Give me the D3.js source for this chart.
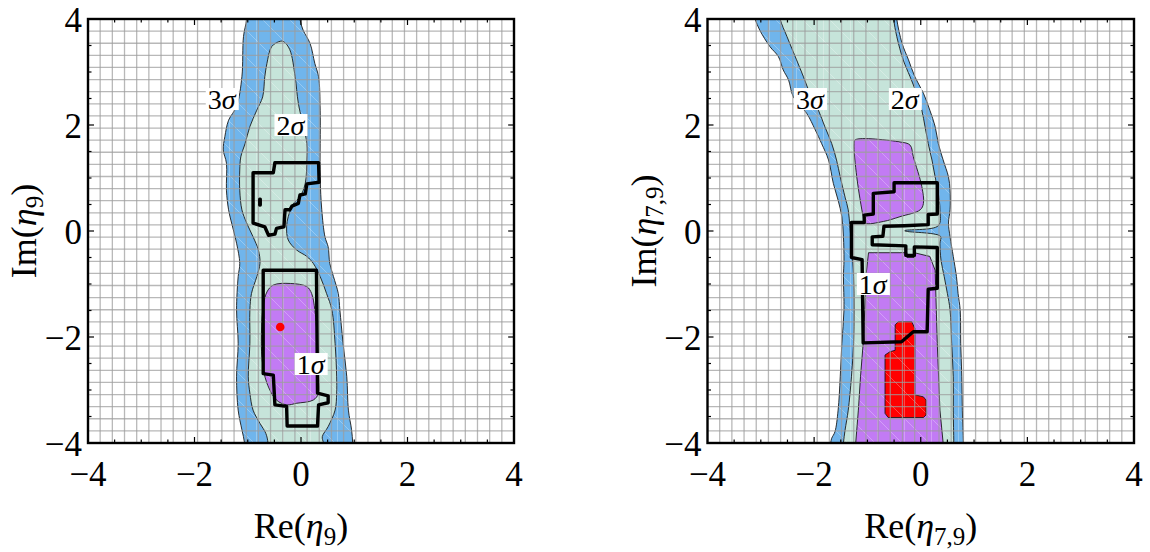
<!DOCTYPE html>
<html>
<head>
<meta charset="utf-8">
<script src="https://cdn.jsdelivr.net/npm/d3@7"></script>
<style>
  html, body { margin: 0; padding: 0; background: #fff; }
  svg { display: block; font-family: "Liberation Serif", "Times New Roman", serif; }
</style>
</head>
<body>
<svg id="chart" width="1150" height="552"></svg>
<script>
// ---------- axes ----------
const tickValues = [-4, -2, 0, 2, 4];
const gridDivisions = 35;

// ---------- left panel: eta_9 ----------
const eta9Sigma3 = [[-1.02,4.3],[-1.02,4.0],[-1.08,3.67],[-1.11,2.91],[-1.21,2.35],[-1.36,2.09],[-1.43,1.78],[-1.46,1.53],[-1.40,1.28],[-1.40,0.77],[-1.36,0.40],[-1.27,0.02],[-1.21,-0.23],[-1.15,-0.61],[-1.18,-0.86],[-1.21,-1.49],[-1.18,-2.12],[-1.21,-2.75],[-1.18,-3.38],[-1.11,-3.75],[-1.06,-4.0],[-1.06,-4.3],[0.97,-4.3],[0.97,-4.0],[0.95,-3.75],[0.89,-3.38],[0.86,-2.75],[0.79,-2.12],[0.73,-1.49],[0.70,-1.18],[0.61,-0.86],[0.54,-0.61],[0.51,-0.30],[0.45,-0.11],[0.39,0.40],[0.36,1.02],[0.36,2.28],[0.33,2.91],[0.26,3.16],[0.17,3.54],[0.04,3.79],[-0.02,4.0],[-0.02,4.3]];
const eta9Sigma2 = [[-0.39,3.58],[-0.55,3.48],[-0.64,3.16],[-0.68,2.91],[-0.72,2.53],[-0.83,2.28],[-0.96,1.97],[-1.05,1.65],[-1.13,1.40],[-1.15,1.15],[-1.15,0.77],[-1.11,0.40],[-1.02,0.15],[-0.90,-0.11],[-0.80,-0.36],[-0.77,-0.61],[-0.83,-0.86],[-0.93,-1.18],[-0.96,-1.49],[-0.96,-2.12],[-0.99,-2.75],[-0.96,-3.06],[-0.90,-3.38],[-0.77,-3.63],[-0.66,-3.82],[-0.62,-4.0],[-0.62,-4.3],[0.42,-4.3],[0.42,-4.0],[0.40,-3.88],[0.51,-3.69],[0.64,-3.38],[0.67,-3.06],[0.67,-2.75],[0.64,-2.12],[0.58,-1.49],[0.48,-1.18],[0.36,-0.86],[0.23,-0.61],[0.11,-0.48],[-0.08,-0.36],[-0.24,-0.17],[-0.27,0.08],[-0.24,0.27],[-0.14,0.52],[-0.02,0.64],[0.08,0.90],[0.11,1.34],[0.11,1.65],[-0.05,2.41],[-0.11,2.91],[-0.21,3.42],[-0.32,3.57]];
const eta9Sigma1 = [[-0.52,-1.02],[-0.20,-0.99],[0.11,-1.05],[0.20,-1.18],[0.26,-1.49],[0.31,-2.12],[0.33,-2.75],[0.33,-3.06],[0.23,-3.19],[-0.08,-3.25],[-0.27,-3.28],[-0.46,-3.19],[-0.64,-2.87],[-0.73,-2.43],[-0.74,-1.81],[-0.71,-1.43],[-0.64,-1.15]];
const eta9FitUpper = [[-0.90,1.10],[-0.52,1.10],[-0.49,1.29],[0.33,1.29],[0.34,0.92],[0.11,0.89],[0.08,0.70],[-0.02,0.68],[-0.05,0.52],[-0.17,0.47],[-0.21,0.40],[-0.30,0.40],[-0.32,0.08],[-0.46,0.05],[-0.49,-0.06],[-0.61,-0.08],[-0.68,0.08],[-0.90,0.15]];
const eta9FitLower = [[-0.71,-0.74],[0.29,-0.74],[0.31,-3.06],[0.51,-3.11],[0.51,-3.24],[0.33,-3.28],[0.31,-3.68],[-0.26,-3.68],[-0.27,-3.31],[-0.49,-3.28],[-0.52,-2.72],[-0.71,-2.69]];
const eta9FitSpeck = [[-0.775,0.60],[-0.765,0.60],[-0.765,0.49],[-0.775,0.49]];
const eta9Best = [-0.39, -1.81];
const eta9Labels = [
  { level: "3", x: -1.49, y: 2.49 },
  { level: "2", x: -0.20, y: 2.00 },
  { level: "1", x: 0.18, y: -2.51 }
];

// ---------- right panel: eta_{7,9} ----------
const eta79Sigma3 = [[-3.22,4.3],[-3.11,4.0],[-3.02,3.79],[-2.83,3.48],[-2.67,3.29],[-2.58,3.04],[-2.48,2.85],[-2.39,2.53],[-2.14,2.22],[-1.98,1.91],[-1.86,1.65],[-1.73,1.34],[-1.64,0.90],[-1.55,0.58],[-1.48,0.27],[-1.45,-0.11],[-1.44,-0.55],[-1.45,-0.86],[-1.44,-1.49],[-1.48,-2.12],[-1.51,-2.75],[-1.55,-3.38],[-1.61,-3.79],[-1.67,-3.91],[-1.69,-4.0],[-1.72,-4.3],[0.80,-4.3],[0.80,-4.0],[0.78,-3.38],[0.77,-2.75],[0.75,-2.12],[0.74,-1.49],[0.70,-1.18],[0.67,-0.86],[0.61,-0.48],[0.55,-0.11],[0.52,0.15],[0.55,0.40],[0.55,0.77],[0.52,1.02],[0.42,1.34],[0.33,1.65],[0.27,1.97],[0.17,2.28],[0.05,2.60],[-0.11,2.91],[-0.23,3.23],[-0.35,3.54],[-0.45,4.0],[-0.47,4.3]];
const eta79Sigma2 = [[-2.70,4.3],[-2.64,4.0],[-2.51,3.67],[-2.33,3.23],[-2.20,2.91],[-2.08,2.60],[-1.92,2.28],[-1.80,1.97],[-1.67,1.65],[-1.58,1.34],[-1.51,1.02],[-1.42,0.64],[-1.36,0.40],[-1.33,0.08],[-1.30,-0.23],[-1.26,-0.86],[-1.25,-1.49],[-1.26,-2.12],[-1.30,-2.75],[-1.36,-3.38],[-1.42,-3.76],[-1.45,-4.0],[-1.47,-4.3],[0.62,-4.3],[0.62,-4.0],[0.61,-3.38],[0.61,-2.75],[0.58,-2.12],[0.55,-1.49],[0.50,-1.18],[0.44,-0.86],[0.38,-0.55],[0.36,-0.23],[0.37,-0.10],[-0.30,0.005],[0.33,0.10],[0.36,0.40],[0.33,0.71],[0.27,1.02],[0.21,1.34],[0.14,1.65],[0.08,1.97],[0.02,2.28],[-0.08,2.60],[-0.20,2.91],[-0.33,3.23],[-0.45,3.67],[-0.51,4.0],[-0.54,4.3]];
const eta79Sigma1Upper = [[-1.23,1.72],[-0.39,1.68],[-0.20,1.62],[-0.14,1.40],[0.02,0.84],[0.05,0.52],[-0.01,0.40],[-0.39,0.27],[-0.70,0.18],[-1.05,0.15],[-1.08,0.27],[-1.20,1.02],[-1.25,1.65]];
const eta79Sigma1Lower = [[-0.98,-0.41],[-0.26,-0.41],[-0.26,-0.50],[-0.12,-0.50],[-0.12,-0.41],[0.17,-0.48],[0.27,-0.74],[0.31,-2.12],[0.36,-3.38],[0.42,-4.0],[0.42,-4.3],[-1.22,-4.3],[-1.22,-4.0],[-1.17,-3.38],[-1.13,-2.75],[-1.08,-2.12],[-1.05,-1.49],[-1.02,-0.78]];
const eta79Core = [[-0.48,-1.77],[-0.42,-1.71],[-0.17,-1.71],[-0.11,-1.84],[-0.11,-3.09],[0.05,-3.13],[0.10,-3.19],[0.10,-3.47],[0.05,-3.52],[-0.61,-3.52],[-0.67,-3.44],[-0.67,-2.34],[-0.58,-2.28],[-0.48,-2.25]];
const eta79Fit = [[-0.50,0.91],[0.31,0.91],[0.31,0.32],[0.14,0.31],[0.14,0.12],[-0.31,0.10],[-0.69,0.09],[-0.71,-0.10],[-0.91,-0.11],[-0.91,-0.26],[-0.28,-0.28],[-0.28,-0.46],[-0.12,-0.46],[-0.12,-0.30],[0.31,-0.31],[0.31,-1.08],[0.14,-1.10],[0.12,-1.90],[-0.14,-1.90],[-0.36,-2.09],[-1.08,-2.11],[-1.10,-0.54],[-1.30,-0.50],[-1.30,0.16],[-1.06,0.16],[-1.06,0.30],[-0.89,0.32],[-0.89,0.71],[-0.50,0.74]];
const eta79Labels = [
  { level: "3", x: -2.08, y: 2.49 },
  { level: "2", x: -0.30, y: 2.49 },
  { level: "1", x: -0.90, y: -1.00 }
];

// ---------- styling ----------
const colors = { s3: "#70b5ec", s2: "#c6e4da", s1: "#c27bf4", core: "#ff0000" };

const panels = [
  {
    id: "p9", x0: 88, x1: 514, y0: 443, y1: 19,
    regions: [
      { pts: eta9Sigma3, fill: colors.s3, smooth: true },
      { pts: eta9Sigma2, fill: colors.s2, smooth: true },
      { pts: eta9Sigma1, fill: colors.s1, smooth: true }
    ],
    fits: [eta9FitUpper, eta9FitLower, eta9FitSpeck],
    best: eta9Best,
    labels: eta9Labels,
    xTitle: ["Re(", "η", "9", ")"],
    yTitle: ["Im(", "η", "9", ")"]
  },
  {
    id: "p79", x0: 707.5, x1: 1134, y0: 443, y1: 19,
    regions: [
      { pts: eta79Sigma3, fill: colors.s3, smooth: true },
      { pts: eta79Sigma2, fill: colors.s2, smooth: true },
      { pts: eta79Sigma1Upper, fill: colors.s1, smooth: true },
      { pts: eta79Sigma1Lower, fill: colors.s1, smooth: false },
      { pts: eta79Core, fill: colors.core, smooth: false }
    ],
    fits: [eta79Fit],
    best: null,
    labels: eta79Labels,
    xTitle: ["Re(", "η", "7,9", ")"],
    yTitle: ["Im(", "η", "7,9", ")"]
  }
];

const svg = d3.select("#chart");
const defs = svg.append("defs");

// faint white triangulation mesh inside the filled contours
const mesh = defs.append("pattern")
  .attr("id", "mesh").attr("patternUnits", "userSpaceOnUse")
  .attr("width", 27).attr("height", 27);
mesh.append("path")
  .attr("d", "M0,0L27,27M-13.5,13.5L13.5,40.5M13.5,-13.5L40.5,13.5M13.5,0V27")
  .attr("stroke", "#fff").attr("stroke-opacity", 0.35).attr("stroke-width", 0.8).attr("fill", "none");

const fmt = d => d < 0 ? "\u2212" + Math.abs(d) : String(d);
const tickFont = 35;
const titleFont = 36;

function addTitle(sel, parts) {
  sel.append("tspan").text(parts[0]);
  sel.append("tspan").attr("font-style", "italic").text(parts[1]);
  sel.append("tspan").attr("font-size", 25).attr("dy", 7).text(parts[2]);
  sel.append("tspan").attr("dy", -7).text(parts[3]);
}

panels.forEach(p => {
  const x = d3.scaleLinear().domain([-4, 4]).range([p.x0, p.x1]);
  const y = d3.scaleLinear().domain([-4, 4]).range([p.y0, p.y1]);
  const g = svg.append("g");

  defs.append("clipPath").attr("id", "clip-" + p.id)
    .append("rect").attr("x", p.x0).attr("y", p.y1)
    .attr("width", p.x1 - p.x0).attr("height", p.y0 - p.y1);

  const plot = g.append("g").attr("clip-path", `url(#clip-${p.id})`);

  const smoothLine = d3.line().x(d => x(d[0])).y(d => y(d[1])).curve(d3.curveCatmullRomClosed.alpha(0.5));
  const sharpLine = d3.line().x(d => x(d[0])).y(d => y(d[1])).curve(d3.curveLinearClosed);

  // filled confidence regions
  p.regions.forEach(r => {
    plot.append("path")
      .attr("d", (r.smooth ? smoothLine : sharpLine)(r.pts))
      .attr("fill", r.fill);
  });
  // mesh over the outermost region
  plot.append("path")
    .attr("d", smoothLine(p.regions[0].pts))
    .attr("fill", "url(#mesh)");
  // thin contour outlines
  p.regions.forEach(r => {
    plot.append("path")
      .attr("d", (r.smooth ? smoothLine : sharpLine)(r.pts))
      .attr("fill", "none").attr("stroke", "#1a1a1a").attr("stroke-width", 0.9);
  });

  // grid
  const gridVals = d3.range(1, gridDivisions).map(i => -4 + i * 8 / gridDivisions);
  const gridStyle = s => s.attr("stroke", "#9c9c9c").attr("stroke-opacity", 0.72).attr("stroke-width", 1.3);
  plot.append("g").selectAll("line").data(gridVals).join("line")
    .attr("x1", d => x(d)).attr("x2", d => x(d)).attr("y1", p.y1).attr("y2", p.y0)
    .call(gridStyle);
  plot.append("g").selectAll("line").data(gridVals).join("line")
    .attr("y1", d => y(d)).attr("y2", d => y(d)).attr("x1", p.x0).attr("x2", p.x1)
    .call(gridStyle);

  // thick 1-sigma contours of the alternative fit
  p.fits.forEach(f => {
    plot.append("path")
      .attr("d", sharpLine(f))
      .attr("fill", "none").attr("stroke", "#000")
      .attr("stroke-width", 3.4).attr("stroke-linejoin", "round");
  });

  // best-fit point
  if (p.best) {
    plot.append("circle").attr("cx", x(p.best[0])).attr("cy", y(p.best[1]))
      .attr("r", 4.3).attr("fill", "#ff0000");
  }

  // contour labels
  p.labels.forEach(l => {
    const lg = g.append("g");
    const t = lg.append("text")
      .attr("x", x(l.x)).attr("y", y(l.y) + 9.5)
      .attr("text-anchor", "middle").attr("font-size", 28);
    t.append("tspan").text(l.level);
    t.append("tspan").attr("font-style", "italic").text("σ");
    const bb = t.node().getBBox();
    lg.insert("rect", "text")
      .attr("x", bb.x - 2).attr("y", y(l.y) - 11)
      .attr("width", bb.width + 4).attr("height", 22)
      .attr("fill", "#fff");
  });

  // frame and inward ticks
  g.append("rect").attr("x", p.x0).attr("y", p.y1)
    .attr("width", p.x1 - p.x0).attr("height", p.y0 - p.y1)
    .attr("fill", "none").attr("stroke", "#000").attr("stroke-width", 2.4);
  const minor = d3.range(-3.5, 4, 0.5);
  const tlen = d => (d % 2 === 0 ? 6 : 3.5);
  const tg = g.append("g").attr("stroke", "#000").attr("stroke-width", 1.2);
  minor.forEach(d => {
    tg.append("line").attr("x1", x(d)).attr("x2", x(d)).attr("y1", p.y0).attr("y2", p.y0 - tlen(d));
    tg.append("line").attr("x1", x(d)).attr("x2", x(d)).attr("y1", p.y1).attr("y2", p.y1 + tlen(d));
    tg.append("line").attr("y1", y(d)).attr("y2", y(d)).attr("x1", p.x0).attr("x2", p.x0 + tlen(d));
    tg.append("line").attr("y1", y(d)).attr("y2", y(d)).attr("x1", p.x1).attr("x2", p.x1 - tlen(d));
  });

  // tick labels
  g.append("g").selectAll("text").data(tickValues).join("text")
    .attr("x", d => x(d)).attr("y", p.y0 + 43)
    .attr("text-anchor", "middle").attr("font-size", tickFont).text(fmt);
  g.append("g").selectAll("text").data(tickValues).join("text")
    .attr("x", p.x0 - 6).attr("y", d => y(d) + 12.6)
    .attr("text-anchor", "end").attr("font-size", tickFont).text(fmt);

  // axis titles
  const xt = g.append("text")
    .attr("x", (p.x0 + p.x1) / 2).attr("y", 538)
    .attr("text-anchor", "middle").attr("font-size", titleFont);
  addTitle(xt, p.xTitle);
  const yt = g.append("text")
    .attr("transform", `translate(${p.x0 - 52},${(p.y0 + p.y1) / 2}) rotate(-90)`)
    .attr("text-anchor", "middle").attr("font-size", titleFont);
  addTitle(yt, p.yTitle);
});
</script>
</body>
</html>
